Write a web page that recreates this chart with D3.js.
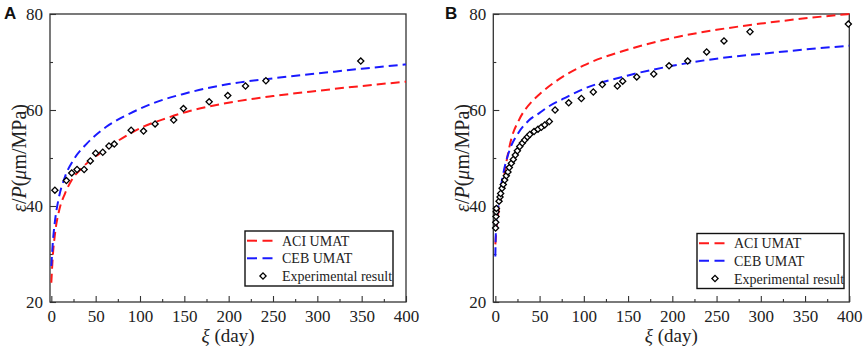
<!DOCTYPE html>
<html><head><meta charset="utf-8">
<script src="https://cdn.jsdelivr.net/npm/d3@7/dist/d3.min.js"></script>
<style>
body{margin:0;background:#fff;}
svg{display:block;}
</style></head>
<body>
<svg id="chart" width="865" height="348"></svg>
<script>
// ---------- data ----------
const xTicks = [0, 50, 100, 150, 200, 250, 300, 350, 400];
const xMinorTicks = [25, 75, 125, 175, 225, 275, 325, 375];
const yTicks = [20, 40, 60, 80];
const yMinorTicks = [30, 50, 70];
const legendLabels = ["ACI UMAT", "CEB UMAT", "Experimental result"];
const panelLabels = ["A", "B"];

// Panel A
const aAciDays = [0, 1.6, 4.2, 9, 15.4, 23, 36, 55, 73.7, 100, 130, 156, 182, 250, 300, 350, 400];
const aAciVals = [24, 29.4, 34.3, 39.2, 42.6, 45.4, 48.2, 51, 53.4, 56.2, 58.3, 59.8, 60.9, 62.9, 64.0, 65.0, 65.9];
const aCebDays = [0, 1.6, 4.2, 8, 15.4, 25, 40, 62, 89, 119, 150, 200, 250, 300, 350, 400];
const aCebVals = [27.5, 32.2, 37, 41.3, 46.1, 49.6, 53, 56.5, 59.3, 61.7, 63.4, 65.4, 66.6, 67.6, 68.6, 69.5];
const aExpDays = [4, 17, 23, 29, 37, 44, 50, 58, 65, 71, 90, 104, 117, 138, 149, 178, 199, 219, 242, 349];
const aExpVals = [43.3, 45.3, 46.9, 47.6, 47.6, 49.4, 51, 51.2, 52.5, 52.9, 55.8, 55.6, 57.1, 57.9, 60.3, 61.7, 63, 65, 66.1, 70.2];

// Panel B
const bAciDays = [0, 1, 3, 6.8, 11.3, 18.1, 26.4, 41.5, 50, 75, 100, 150, 200, 250, 300, 350, 400];
const bAciVals = [32, 34.5, 38.1, 42.3, 47.9, 54, 57.8, 61.8, 63.3, 66.8, 69.3, 72.6, 75, 76.7, 78, 79.1, 80];
const bCebDays = [0, 0.5, 3, 8.3, 16.2, 25.6, 37.7, 50, 60, 77.6, 100, 150, 200, 250, 300, 350, 400];
const bCebVals = [29.5, 34, 39.5, 46.1, 51.7, 55.1, 57.8, 59.4, 60.7, 62.4, 64.4, 67.2, 69.2, 70.7, 71.7, 72.6, 73.4];
const bExpDays = [0.3, 0.5, 0.8, 1, 1.2, 4.2, 5.3, 6, 7.6, 9, 10.6, 12.4, 14.3, 15.8, 18.1, 20.3, 22.6, 24.9, 27.6, 30.5, 33.2, 36.2, 38.9, 43.7, 48.2, 52, 55.8, 61, 67.5, 82.9, 97.2, 110.7, 120.9, 137.9, 143.9, 159.8, 179, 196.3, 217.4, 238.8, 258.4, 287.8, 398.9];
const bExpVals = [35.4, 36.6, 37.8, 38.8, 39.5, 41, 41.9, 42.6, 43.7, 44.5, 45.4, 46.3, 47.1, 48, 48.9, 49.7, 50.6, 51.5, 52.4, 53.1, 53.75, 54.4, 54.9, 55.5, 56, 56.4, 56.9, 57.6, 60, 61.5, 62.4, 63.75, 65.3, 65, 66, 66.9, 67.5, 69.2, 70.2, 72.1, 74.4, 76.3, 77.9];

// ---------- drawing ----------
const svg = d3.select("#chart");
const zip = (xs, ys) => xs.map((d, i) => [d, ys[i]]);
const SERIF = "'Liberation Serif', 'Times New Roman', serif";
const SANS = "'Liberation Sans', Arial, sans-serif";

const panels = [
  {label: panelLabels[0], left: 50, right: 406, xmin: -1.5, labelX: 4,
   aci: zip(aAciDays, aAciVals), ceb: zip(aCebDays, aCebVals), exp: zip(aExpDays, aExpVals),
   legend: {x: 245, y: 231, w: 148, h: 55}},
  {label: panelLabels[1], left: 493.3, right: 849.3, xmin: -2.3, labelX: 445,
   aci: zip(bAciDays, bAciVals), ceb: zip(bCebDays, bCebVals), exp: zip(bExpDays, bExpVals),
   legend: {x: 697, y: 233.5, w: 147, h: 55}}
];
const plotTop = 14, plotBottom = 302;
const axisColor = "#333";
const dash = "9,5";

panels.forEach(p => {
  const x = d3.scaleLinear().domain([p.xmin, 400]).range([p.left, p.right]);
  const y = d3.scaleLinear().domain([20, 80]).range([plotBottom, plotTop]);
  const g = svg.append("g");

  // y axis
  const ya = g.append("g").attr("transform", `translate(${p.left},0)`)
    .call(d3.axisLeft(y).tickValues(yTicks).tickSize(-6).tickPadding(7).tickFormat(d3.format("d")));
  ya.call(s => s.select(".domain").remove());
  ya.selectAll("line").attr("stroke", axisColor).attr("stroke-width", 1.1);
  ya.selectAll("text").style("font-size", "17px").style("font-family", SERIF).attr("fill", "#222");
  const yam = g.append("g").attr("transform", `translate(${p.left},0)`)
    .call(d3.axisLeft(y).tickValues(yMinorTicks).tickSize(-3).tickFormat(""));
  yam.call(s => s.select(".domain").remove());
  yam.selectAll("line").attr("stroke", axisColor).attr("stroke-width", 1.1);

  // x axis
  const xa = g.append("g").attr("transform", `translate(0,${plotBottom})`)
    .call(d3.axisBottom(x).tickValues(xTicks).tickSize(-6).tickFormat(d3.format("d")));
  xa.call(s => s.select(".domain").remove());
  xa.selectAll("line").attr("stroke", axisColor).attr("stroke-width", 1.1);
  xa.selectAll("text").style("font-size", "17px").style("font-family", SERIF)
    .attr("fill", "#222").attr("y", 19.5).attr("dy", 0);
  const xam = g.append("g").attr("transform", `translate(0,${plotBottom})`)
    .call(d3.axisBottom(x).tickValues(xMinorTicks).tickSize(-3).tickFormat(""));
  xam.call(s => s.select(".domain").remove());
  xam.selectAll("line").attr("stroke", axisColor).attr("stroke-width", 1.1);

  // frame
  g.append("rect").attr("x", p.left).attr("y", plotTop)
    .attr("width", p.right - p.left).attr("height", plotBottom - plotTop)
    .attr("fill", "none").attr("stroke", axisColor).attr("stroke-width", 1.3);

  // curves
  const line = d3.line().x(d => x(d[0])).y(d => y(d[1])).curve(d3.curveMonotoneX);
  g.append("path").attr("d", line(p.aci)).attr("fill", "none")
    .attr("stroke", "#ff1a1a").attr("stroke-width", 2).attr("stroke-dasharray", dash);
  g.append("path").attr("d", line(p.ceb)).attr("fill", "none")
    .attr("stroke", "#1a1aff").attr("stroke-width", 2).attr("stroke-dasharray", dash);

  // experimental points
  const sym = d3.symbol().type(d3.symbolSquare).size(19);
  g.selectAll(".pt").data(p.exp).join("path")
    .attr("d", sym())
    .attr("transform", d => `translate(${x(d[0])},${y(d[1])}) rotate(45)`)
    .attr("fill", "#fff").attr("stroke", "#000").attr("stroke-width", 1.3);

  // axis titles
  const xt = g.append("text").attr("x", (p.left + p.right) / 2).attr("y", 342)
    .attr("text-anchor", "middle").style("font-size", "19px").style("font-family", SERIF).attr("fill", "#222");
  xt.append("tspan").style("font-style", "italic").text("ξ");
  xt.append("tspan").text(" (day)");

  const yt = g.append("text")
    .attr("transform", `translate(${p.left - 24},${(plotTop + plotBottom) / 2}) rotate(-90)`)
    .attr("text-anchor", "middle").style("font-size", "20px").style("font-family", SERIF).attr("fill", "#222");
  yt.append("tspan").style("font-style", "italic").text("ε");
  yt.append("tspan").text("/");
  yt.append("tspan").style("font-style", "italic").text("P");
  yt.append("tspan").text("(");
  yt.append("tspan").style("font-style", "italic").text("μ");
  yt.append("tspan").text("m/MPa)");

  // panel label
  g.append("text").attr("x", p.labelX).attr("y", 19)
    .style("font-size", "17px").style("font-weight", "bold").style("font-family", SANS)
    .attr("fill", "#111").text(p.label);

  // legend
  const L = p.legend;
  const lg = g.append("g").attr("transform", `translate(${L.x},${L.y})`);
  lg.append("rect").attr("width", L.w).attr("height", L.h).attr("fill", "#fff")
    .attr("stroke", "#111").attr("stroke-width", 1.4);
  const rows = [9.7, 27.3, 45];
  const cols = ["#ff1a1a", "#1a1aff"];
  [0, 1].forEach(i => {
    lg.append("line").attr("x1", 2).attr("x2", 33).attr("y1", rows[i]).attr("y2", rows[i])
      .attr("stroke", cols[i]).attr("stroke-width", 2).attr("stroke-dasharray", "10,5.5");
  });
  lg.append("path").attr("d", sym())
    .attr("transform", `translate(18,${rows[2]}) rotate(45)`)
    .attr("fill", "#fff").attr("stroke", "#000").attr("stroke-width", 1.3);
  legendLabels.forEach((t, i) => {
    lg.append("text").attr("x", 37).attr("y", rows[i] + 5)
      .style("font-size", "14px").style("font-family", SERIF)
      .attr("fill", "#222").text(t);
  });
});
</script>
</body></html>
